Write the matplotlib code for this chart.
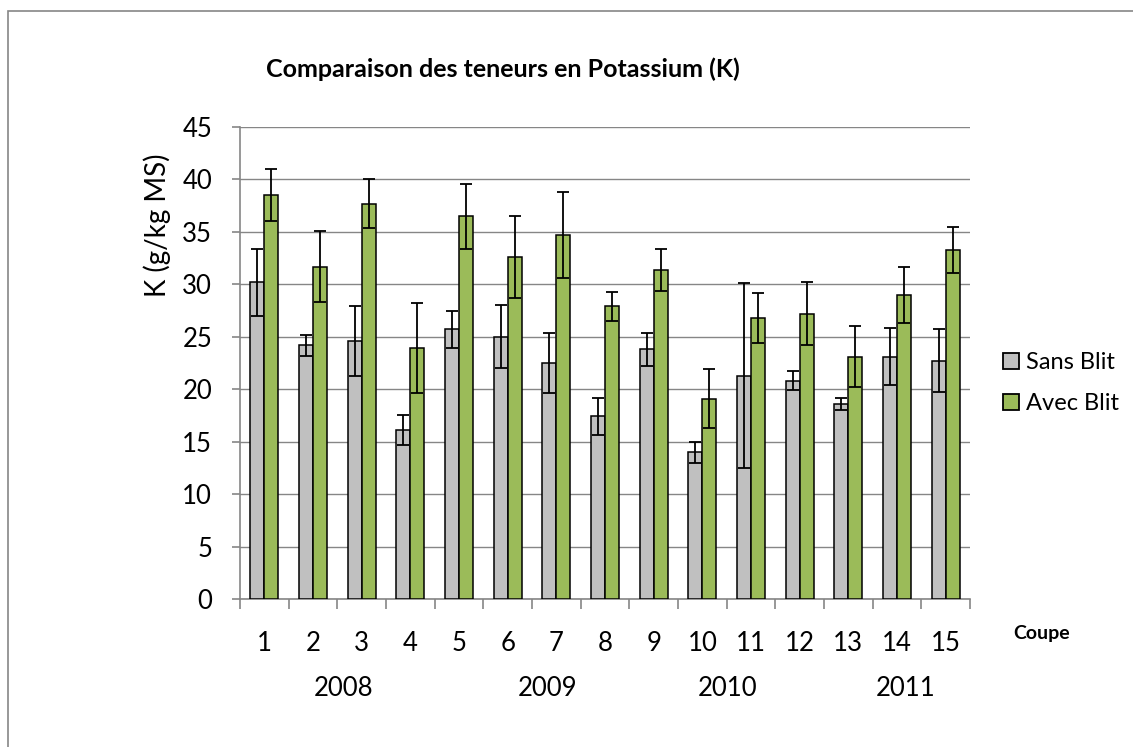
import numpy as np
import matplotlib
matplotlib.use("Agg")
import matplotlib.pyplot as plt
from matplotlib.patches import Patch, Rectangle

# donnees
coupes = ["1", "2", "3", "4", "5", "6", "7", "8", "9", "10", "11", "12", "13", "14", "15"]
annees = ["2008", "2009", "2010", "2011"]
annee_pos = [2.62, 6.83, 10.51, 14.17]  # position des etiquettes (numero de coupe)

sans_blit = [30.2, 24.2, 24.6, 16.1, 25.7, 25.0, 22.5, 17.4, 23.8, 14.0, 21.3, 20.8, 18.6, 23.1, 22.7]
sans_err = [3.2, 1.0, 3.3, 1.4, 1.8, 3.0, 2.9, 1.8, 1.6, 1.0, 8.8, 0.9, 0.6, 2.7, 3.0]
avec_blit = [38.5, 31.7, 37.7, 23.9, 36.5, 32.6, 34.7, 27.9, 31.4, 19.1, 26.8, 27.2, 23.1, 29.0, 33.3]
avec_err = [2.5, 3.4, 2.3, 4.3, 3.1, 3.9, 4.1, 1.4, 2.0, 2.8, 2.4, 3.0, 2.9, 2.7, 2.2]

plt.rcParams["font.family"] = ["Lato", "DejaVu Sans"]
gris_axe = "#868686"

fig = plt.figure(figsize=(11.33, 7.47), dpi=100)
ax = fig.add_axes([240 / 1133, 148 / 747, 730 / 1133, 472 / 747])

x = np.arange(len(coupes))
w = 0.288
ekw = dict(ecolor="black", elinewidth=1.3, capthick=1.3, capsize=4.5)
ax.bar(x - w / 2, sans_blit, w, color="#C0C0C0", edgecolor="black", linewidth=1.1,
       yerr=sans_err, error_kw=ekw, zorder=3)
ax.bar(x + w / 2, avec_blit, w, color="#9BBB59", edgecolor="black", linewidth=1.1,
       yerr=avec_err, error_kw=ekw, zorder=3)

ax.set_xlim(-0.5, len(coupes) - 0.5)
ax.set_ylim(0, 45)
ax.set_yticks(np.arange(0, 46, 5))
ax.yaxis.grid(True, color=gris_axe, linewidth=1.0, zorder=0)
ax.set_axisbelow(True)

ax.set_xticks(x)
ax.set_xticklabels(coupes)
ax.set_xticks(np.arange(-0.5, len(coupes), 1), minor=True)
ax.tick_params(axis="x", which="major", length=0, pad=23, labelsize=18.5)
ax.tick_params(axis="x", which="minor", length=7, width=1.2, color=gris_axe)
ax.tick_params(axis="y", length=6, width=1.2, color=gris_axe, pad=14, labelsize=18.5)

for s in ["top", "right"]:
    ax.spines[s].set_visible(False)
for s in ["left", "bottom"]:
    ax.spines[s].set_color(gris_axe)
    ax.spines[s].set_linewidth(1.2)

# annees sous les numeros de coupe
for a, p in zip(annees, annee_pos):
    ax.text(p - 1, -0.1886, a, transform=ax.get_xaxis_transform(),
            ha="center", va="center", fontsize=18.5)

fig.text(503 / 1133, 1 - 69 / 747, "Comparaison des teneurs en Potassium (K)",
         ha="center", va="center", fontsize=18, fontweight="bold")
fig.text(157 / 1133, 1 - 225 / 747, "K (g/kg MS)", rotation=90,
         ha="center", va="center", fontsize=20)
fig.text(1042 / 1133, 1 - 633 / 747, "Coupe", ha="center", va="center",
         fontsize=14, fontweight="bold")

handles = [Patch(facecolor="#C0C0C0", edgecolor="black", linewidth=1.3),
           Patch(facecolor="#9BBB59", edgecolor="black", linewidth=1.3)]
fig.legend(handles, ["Sans Blit", "Avec Blit"], loc="center left",
           bbox_to_anchor=(1003 / 1133, 1 - 383 / 747), frameon=False,
           fontsize=17, handlelength=0.68, handleheight=0.68,
           handletextpad=0.3, labelspacing=0.85, borderpad=0, borderaxespad=0)

# cadre de la zone de graphique
fig.patches.append(Rectangle((8 / 1133, -0.05), 1.1, 1 - 11 / 747 + 0.05,
                             transform=fig.transFigure, fill=False,
                             edgecolor=gris_axe, linewidth=1.2))

fig.savefig("out.png", dpi=100)
